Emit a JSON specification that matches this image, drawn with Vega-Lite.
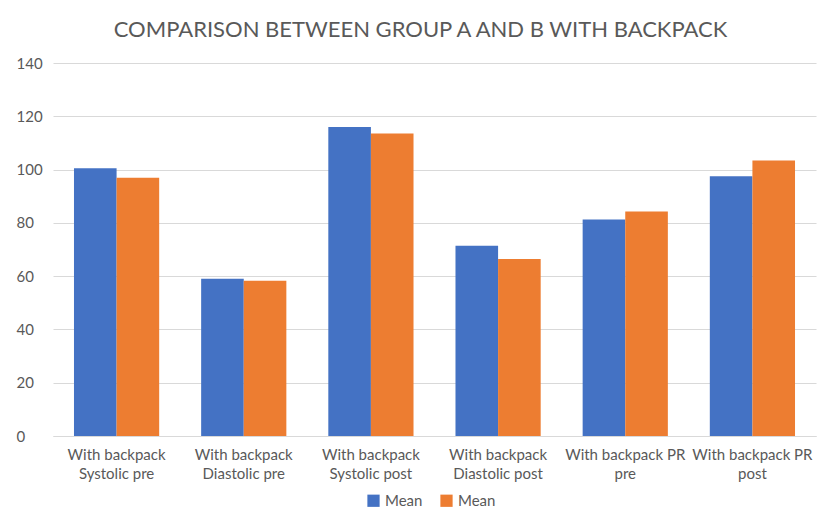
{
  "$schema": "https://vega.github.io/schema/vega-lite/v6.json",
  "width": 821,
  "height": 521,
  "autosize": {"type": "fit", "contains": "padding"},
  "padding": {"left": 16, "right": 5, "top": 19, "bottom": 40},
  "background": "white",
  "title": {
    "text": "COMPARISON BETWEEN GROUP A AND B WITH BACKPACK",
    "font": "Lato",
    "fontSize": 22,
    "fontWeight": "normal",
    "color": "#595959",
    "anchor": "middle",
    "dx": -14,
    "offset": 14
  },
  "data": {
    "values": [
      {"measure": "With backpack|Systolic pre", "group": "Group A", "mean": 100.5},
      {"measure": "With backpack|Systolic pre", "group": "Group B", "mean": 96.9},
      {"measure": "With backpack|Diastolic pre", "group": "Group A", "mean": 59.0},
      {"measure": "With backpack|Diastolic pre", "group": "Group B", "mean": 58.3},
      {"measure": "With backpack|Systolic post", "group": "Group A", "mean": 116.0},
      {"measure": "With backpack|Systolic post", "group": "Group B", "mean": 113.5},
      {"measure": "With backpack|Diastolic post", "group": "Group A", "mean": 71.4},
      {"measure": "With backpack|Diastolic post", "group": "Group B", "mean": 66.4},
      {"measure": "With backpack PR|pre", "group": "Group A", "mean": 81.3},
      {"measure": "With backpack PR|pre", "group": "Group B", "mean": 84.3},
      {"measure": "With backpack PR|post", "group": "Group A", "mean": 97.5},
      {"measure": "With backpack PR|post", "group": "Group B", "mean": 103.4}
    ]
  },
  "mark": {"type": "bar"},
  "encoding": {
    "x": {
      "field": "measure",
      "type": "nominal",
      "sort": null,
      "scale": {"paddingInner": 0.33, "paddingOuter": 0.165},
      "axis": {
        "title": null,
        "labelAngle": 0,
        "labelExpr": "split(datum.label, '|')",
        "labelFont": "Lato",
        "labelFontSize": 15,
        "labelColor": "#595959",
        "labelLineHeight": 19,
        "labelPadding": 11,
        "ticks": false,
        "domainColor": "#d9d9d9",
        "labelLimit": 200
      }
    },
    "xOffset": {"field": "group", "type": "nominal"},
    "y": {
      "field": "mean",
      "type": "quantitative",
      "scale": {"domain": [0, 140]},
      "axis": {
        "title": null,
        "values": [0, 20, 40, 60, 80, 100, 120, 140],
        "labelFont": "Lato",
        "labelFontSize": 15,
        "labelColor": "#595959",
        "labelAlign": "left",
        "labelPadding": 37,
        "ticks": false,
        "domain": false,
        "gridColor": "#d9d9d9"
      }
    },
    "color": {
      "field": "group",
      "type": "nominal",
      "scale": {"domain": ["Group A", "Group B"], "range": ["#4472C4", "#ED7D31"]},
      "legend": {
        "title": null,
        "orient": "none",
        "legendX": 313,
        "legendY": 430,
        "direction": "horizontal",
        "labelExpr": "'Mean'",
        "symbolType": "square",
        "symbolSize": 150,
        "symbolStrokeWidth": 0,
        "labelFont": "Lato",
        "labelFontSize": 15,
        "labelColor": "#595959",
        "labelOffset": 4,
        "columnPadding": 16
      }
    }
  },
  "config": {"view": {"stroke": null}}
}
